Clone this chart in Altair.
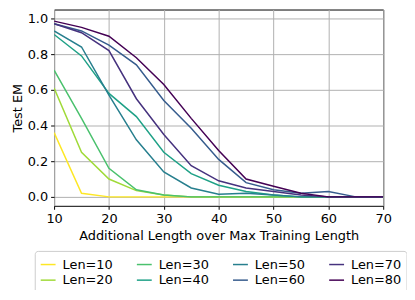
import altair as alt
import pandas as pd

xs = [10, 15, 20, 25, 30, 35, 40, 45, 50, 55, 60, 65, 70]
len10 = [0.36, 0.02, 0.0, 0.0, 0.0, 0.0, 0.0, 0.0, 0.0, 0.0, 0.0, 0.0, 0.0]
len20 = [0.61, 0.25, 0.10, 0.035, 0.01, 0.0, 0.0, 0.0, 0.0, 0.0, 0.0, 0.0, 0.0]
len30 = [0.71, 0.44, 0.16, 0.04, 0.01, 0.0, 0.0, 0.0, 0.0, 0.0, 0.0, 0.0, 0.0]
len40 = [0.91, 0.79, 0.58, 0.45, 0.25, 0.13, 0.065, 0.03, 0.01, 0.0, 0.0, 0.0, 0.0]
len50 = [0.93, 0.84, 0.57, 0.32, 0.14, 0.05, 0.015, 0.02, 0.01, 0.0, 0.0, 0.0, 0.0]
len60 = [0.97, 0.93, 0.85, 0.74, 0.54, 0.385, 0.21, 0.08, 0.04, 0.02, 0.03, 0.0, 0.0]
len70 = [0.97, 0.92, 0.82, 0.55, 0.35, 0.175, 0.09, 0.05, 0.03, 0.01, 0.0, 0.0, 0.0]
len80 = [0.985, 0.95, 0.90, 0.78, 0.63, 0.44, 0.26, 0.10, 0.06, 0.02, 0.0, 0.0, 0.0]

series = {
    "Len=10": len10, "Len=20": len20, "Len=30": len30, "Len=40": len40,
    "Len=50": len50, "Len=60": len60, "Len=70": len70, "Len=80": len80,
}
colors = {
    "Len=10": "#fde725", "Len=20": "#a0da39", "Len=30": "#4ac16d", "Len=40": "#1fa187",
    "Len=50": "#277f8e", "Len=60": "#365c8d", "Len=70": "#46327e", "Len=80": "#440154",
}
# column-major legend order (2 rows x 4 columns)
legend_order = ["Len=10", "Len=30", "Len=50", "Len=70", "Len=20", "Len=40", "Len=60", "Len=80"]

rows = []
for i, (name, vals) in enumerate(series.items()):
    for x, y in zip(xs, vals):
        rows.append({"x": x, "y": y, "series": name, "ord": i})
df = pd.DataFrame(rows)

chart = alt.Chart(df).mark_line(strokeWidth=1.5, clip=True).encode(
    x=alt.X("x:Q", scale=alt.Scale(domain=[10, 70], nice=False, zero=False),
            axis=alt.Axis(values=[10, 20, 30, 40, 50, 60, 70], title="Additional Length over Max Training Length",
                          format="d", labelFlush=False)),
    y=alt.Y("y:Q", scale=alt.Scale(domain=[-0.05, 1.05], nice=False, zero=False),
            axis=alt.Axis(values=[0.0, 0.2, 0.4, 0.6, 0.8, 1.0], format=".1f", title="Test EM",
                          labelFlush=False)),
    color=alt.Color("series:N",
                    scale=alt.Scale(domain=legend_order, range=[colors[k] for k in legend_order]),
                    legend=alt.Legend(title=None, orient="none", legendX=-19.5, legendY=243.5,
                                      columns=4, direction="horizontal", symbolType="stroke",
                                      gridAlign="all",
                                      symbolSize=225, symbolStrokeWidth=1.5, labelFontSize=13,
                                      labelFont="DejaVu Sans", labelColor="black",
                                      columnPadding=21, rowPadding=0, padding=5,
                                      strokeColor="#cccccc", cornerRadius=3, fillColor="white",
                                      labelOffset=6)),
    detail="ord:O",
    order="ord:Q",
).properties(
    width=332, height=198,
    autosize=alt.AutoSizeParams(type="none"),
    padding={"left": 46.5, "top": 0.3, "right": 24, "bottom": 84},
).configure_axis(
    labelFont="DejaVu Sans", titleFont="DejaVu Sans", labelFontSize=13, titleFontSize=13,
    titleFontWeight="normal", labelColor="black", titleColor="black",
    gridColor="#b0b0b0", gridWidth=1, domain=False, tickColor="black", tickSize=3.5,
    labelPadding=3,
).configure_axisY(titlePadding=3).configure_axisX(titlePadding=4).configure_view(
    stroke="black", strokeWidth=1
)

chart.save("out.html", embed_options={"renderer": "svg", "actions": False})
